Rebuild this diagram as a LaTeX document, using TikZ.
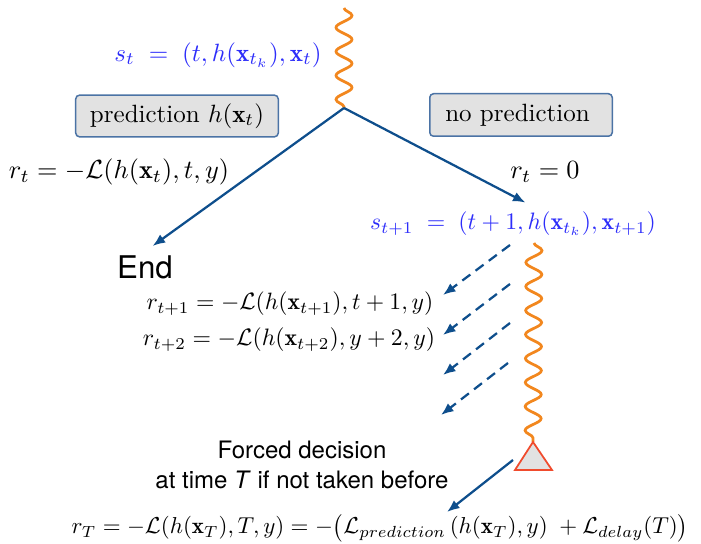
\documentclass[tikz,border=0pt]{standalone}
\usepackage{graphicx}
\usepackage{fontspec}
\newfontfamily\helv{TeX Gyre Heros}
\usetikzlibrary{decorations.pathmorphing,arrows.meta}
\definecolor{arrblue}{RGB}{14,78,140}
\definecolor{stblue}{RGB}{45,45,250}
\definecolor{wavyor}{RGB}{242,135,30}
\definecolor{boxgray}{RGB}{226,226,226}
\definecolor{boxline}{RGB}{75,115,165}
\definecolor{trired}{RGB}{240,75,45}

\begin{document}
\begin{tikzpicture}[x=0.4pt,y=-0.4pt,line width=0.9pt,
  act/.style={draw=boxline,fill=boxgray,rounded corners=1.5pt,line width=0.6pt,minimum height=15pt},
  arr/.style={arrblue,-{Latex[length=5pt,width=4pt]}},
  darr/.style={arr,dashed,dash pattern=on 4pt off 2.6pt},
  wave/.style={wavyor,line width=1.1pt,decorate,decoration={snake,amplitude=3.2pt,segment length=9.6pt}},
  sans/.style={font=\helv}]
  \useasboundingbox (0,0) rectangle (701,544);
  \coordinate (top) at (344,8);
  \coordinate (fork) at (344,108);
  \coordinate (wtop) at (534,243);
  \coordinate (apex) at (533,442);
  \coordinate (bl) at (515,470);
  \coordinate (br) at (552,470);
  \draw[wave] (top) -- (fork);
  \draw[wave] (wtop) -- (apex);
  \draw[trired,fill=boxgray,line width=0.7pt] (apex) -- (br) -- (bl) -- cycle;

  \node[stblue] (st) at (218,55) {$s_t\;=\;(t,h(\mathbf{x}_{t_k}),\mathbf{x}_t)$};
  \node[act,minimum width=81pt] (pred) at (177,116) {prediction $h(\mathbf{x}_t)$};
  \node[act,minimum width=73pt,minimum height=17pt] (nopred) at (521,115) {no prediction\;};
  \node (rt) at (119,172) {\scalebox{1.05}{$r_t=-\mathcal{L}(h(\mathbf{x}_t),t,y)$}};
  \node (rz) at (545,172) {\scalebox{1.05}{$r_t=0$}};
  \node[stblue] (st1) at (513,224) {\scalebox{0.95}{$s_{t+1}\;=\;(t+1,h(\mathbf{x}_{t_k}),\mathbf{x}_{t+1})$}};
  \node[sans,font=\helv\fontsize{12.5}{15}\selectfont] (end) at (145,267) {End};
  \node (r1) at (290,304) {\scalebox{0.945}{$r_{t+1}=-\mathcal{L}(h(\mathbf{x}_{t+1}),t+1,y)$}};
  \node (r2) at (289,340) {\scalebox{0.95}{$r_{t+2}=-\mathcal{L}(h(\mathbf{x}_{t+2}),y+2,y)$}};
  \node[sans,font=\helv\fontsize{9.6}{12}\selectfont,align=center,inner sep=0.5pt] (forced) at (302,465)
    {Forced decision\\at time \textit{T} if not taken before};
  \node[inner sep=0.5pt] (rT) at (380,528) {\scalebox{0.92}{$r_T=-\mathcal{L}(h(\mathbf{x}_T),T,y)=-\big(\mathcal{L}_{prediction}\,(h(\mathbf{x}_T),y)\;+\mathcal{L}_{delay}(T)\big)$}};

  \draw[arr] (fork) -- (end.70);
  \draw[arr] (fork) -- ([xshift=5pt]st1.north);

  \coordinate (d1a) at (510,245);
  \coordinate (d1b) at (443,295);
  \coordinate (d2a) at (510,284);
  \coordinate (d2b) at (443,335);
  \coordinate (d3a) at (510,323);
  \coordinate (d3b) at (443,375);
  \coordinate (d4a) at (508,363);
  \coordinate (d4b) at (441,415);
  \draw[darr] (d1a) -- (d1b);
  \draw[darr] (d2a) -- (d2b);
  \draw[darr] (d3a) -- (d3b);
  \draw[darr] (d4a) -- (d4b);

  \coordinate (tdec) at (513,460);
  \coordinate (tT) at (447,512);
  \draw[arr] (tdec) -- (tT);
\end{tikzpicture}
\end{document}
